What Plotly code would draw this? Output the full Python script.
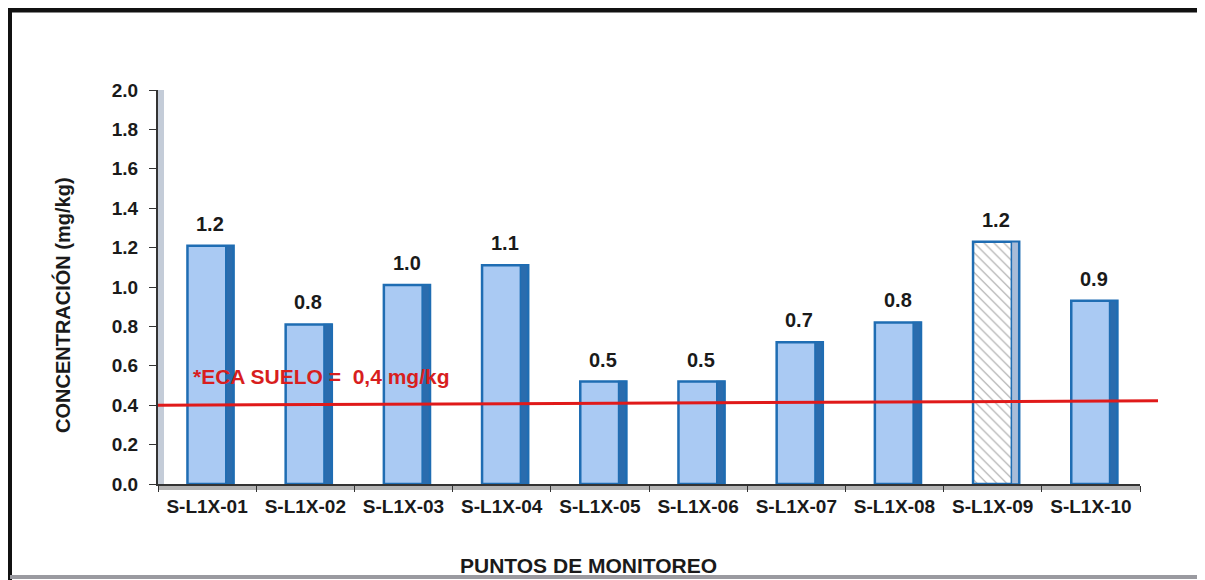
import plotly.graph_objects as go

categories = ["S-L1X-01", "S-L1X-02", "S-L1X-03", "S-L1X-04", "S-L1X-05",
              "S-L1X-06", "S-L1X-07", "S-L1X-08", "S-L1X-09", "S-L1X-10"]
values = [1.21, 0.81, 1.01, 1.11, 0.52, 0.52, 0.72, 0.82, 1.23, 0.93]
labels = ["1.2", "0.8", "1.0", "1.1", "0.5", "0.5", "0.7", "0.8", "1.2", "0.9"]
eca_limit = 0.4
eca_text = "*ECA SUELO =  0,4 mg/kg"
x_title = "PUNTOS DE MONITOREO"
y_title = "CONCENTRACIÓN (mg/kg)"

# page has an 8px body margin; work in page pixels and shift
OFF = 8
W, H = 1197, 572
L, R, T, B = 150, 65, 82, 96
pw, ph = W - L - R, H - T - B
FONT = "Liberation Sans, Arial"


def px(x):
    return (x - OFF - L) / pw


def py(y):
    return (H - B - (y - OFF)) / ph


fills = ["#aacaf3"] * len(categories)
fills[8] = "#ffffff"
patterns = [""] * len(categories)
patterns[8] = "\\"
side_cols = ["#2a6cae"] * len(categories)
side_cols[8] = "#a9bcd8"

fig = go.Figure()
fig.add_trace(go.Bar(
    x=categories, y=values, width=0.47, offset=-0.2,
    marker=dict(color=fills, line=dict(color="#1f6db3", width=2.5),
                pattern=dict(shape=patterns, fgcolor="#5a84c0", bgcolor="#ffffff",
                             size=7, solidity=0.15)),
    hoverinfo="skip", showlegend=False,
))
fig.add_trace(go.Bar(
    x=categories, y=values, width=0.075, offset=0.19,
    marker=dict(color=side_cols, line=dict(color="#1f6db3", width=1.5)),
    hoverinfo="skip", showlegend=False,
))

annotations = []
for c, v, t in zip(categories, values, labels):
    annotations.append(dict(x=c, y=v, text="<b>" + t + "</b>", showarrow=False,
                            yanchor="bottom", yshift=9, xshift=3,
                            font=dict(family=FONT, size=20, color="#1a1a1a")))
annotations.append(dict(xref="paper", yref="y", x=px(191), y=0.545, xanchor="left",
                        text="<b>" + eca_text.replace("  ", " &nbsp;") + "</b>",
                        showarrow=False,
                        font=dict(family=FONT, size=21, color="#d81e1e")))
annotations.append(dict(xref="paper", yref="paper", x=px(588), y=py(565),
                        xanchor="center", yanchor="middle",
                        text="<b>" + x_title + "</b>", showarrow=False,
                        font=dict(family=FONT, size=21, color="#1a1a1a")))
annotations.append(dict(xref="paper", yref="paper", x=px(62), y=py(305), textangle=-90,
                        xanchor="center", yanchor="middle",
                        text="<b>" + y_title + "</b>", showarrow=False,
                        font=dict(family=FONT, size=20, color="#1a1a1a")))

shapes = [
    # 3D wall and floor hints
    dict(type="rect", xref="paper", yref="paper", x0=0, x1=px(164), y0=0, y1=1,
         fillcolor="#c4ccd8", line=dict(width=0), layer="below"),
    dict(type="rect", xref="paper", yref="paper", x0=0, x1=1, y0=py(490), y1=0,
         fillcolor="#b4b4b4", line=dict(width=0), layer="below"),
    # ECA limit line
    dict(type="line", xref="paper", yref="y", x0=0, x1=px(1158), y0=eca_limit,
         y1=eca_limit + 0.022, line=dict(color="#e01a1a", width=3)),
    # frame
    dict(type="line", xref="paper", yref="paper", x0=px(6), x1=px(1210), y0=py(10), y1=py(10),
         line=dict(color="#111111", width=5)),
    dict(type="line", xref="paper", yref="paper", x0=px(10), x1=px(10), y0=py(10), y1=py(580),
         line=dict(color="#111111", width=4)),
    dict(type="line", xref="paper", yref="paper", x0=px(1200), x1=px(1200), y0=py(10), y1=py(580),
         line=dict(color="#111111", width=3)),
    dict(type="line", xref="paper", yref="paper", x0=px(10), x1=px(1200), y0=py(577), y1=py(577),
         line=dict(color="#9a9aa0", width=4)),
]

fig.update_layout(
    width=W, height=H,
    margin=dict(l=L, r=R, t=T, b=B, autoexpand=False),
    paper_bgcolor="#ffffff", plot_bgcolor="#ffffff",
    font=dict(family=FONT, color="#1a1a1a"),
    barmode="overlay",
    annotations=annotations, shapes=shapes,
    xaxis=dict(showgrid=False, showline=True, linecolor="#333333", linewidth=2,
               ticks="outside", tickson="boundaries", ticklen=6, tickcolor="#333333",
               ticklabelstandoff=4,
               tickfont=dict(size=19, family=FONT, weight="bold", color="#1a1a1a"),
               range=[-0.5, 9.5]),
    yaxis=dict(range=[0, 2.0], dtick=0.2, tickformat=".1f", showgrid=False,
               showline=True, linecolor="#333333", linewidth=2, ticks="outside",
               ticklen=7, tickcolor="#333333", zeroline=False, ticklabelstandoff=7,
               tickfont=dict(size=19, family=FONT, weight="bold", color="#1a1a1a")),
)

fig.write_html("out.html")
